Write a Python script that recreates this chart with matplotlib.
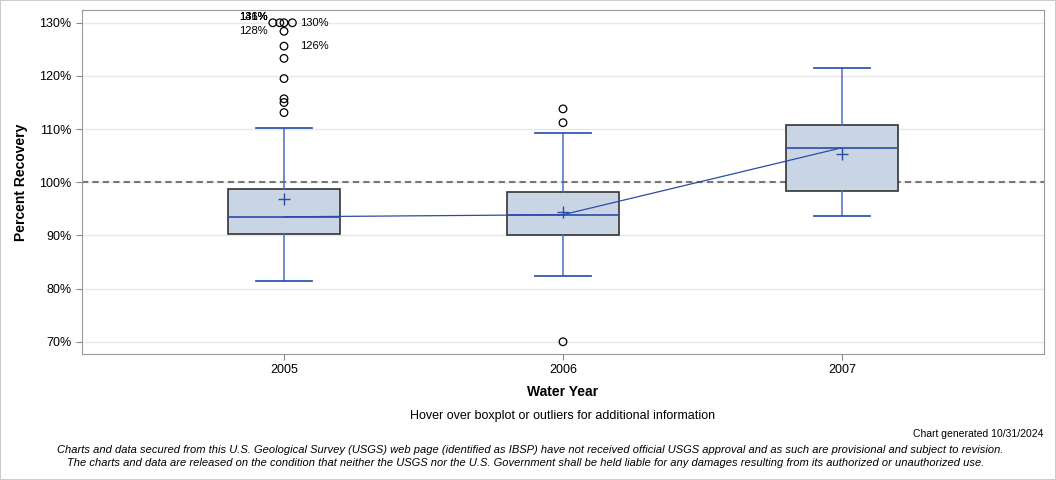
import matplotlib.pyplot as plt
from matplotlib.patches import Rectangle
import numpy as np

plt.rcParams['font.family'] = ['Liberation Sans', 'DejaVu Sans']

years = ["2005", "2006", "2007"]
q1 = [90.3, 90.0, 98.4]
med = [93.5, 93.9, 106.5]
q3 = [98.8, 98.2, 110.8]
whislo = [81.5, 82.3, 93.7]
whishi = [110.3, 109.3, 121.5]
means = [96.9, 94.4, 105.3]
fliers = [
    [130.0, 130.0, 130.0, 130.0, 128.4, 125.6, 123.3, 119.5, 115.7, 115.0, 113.1],
    [113.8, 111.2, 70.0],
    [],
]
# small horizontal spread of the clustered outliers at the top
jitter_2005 = [-0.04, -0.015, 0.0, 0.03, 0, 0, 0, 0, 0, 0, 0]

fig = plt.figure(figsize=(10.56, 4.8), dpi=100)
ax = fig.add_axes([82/1056, 1-354/480, (1044-82)/1056, 344/480])

x = np.arange(len(years))
stats = []
for i in range(len(years)):
    stats.append(dict(q1=q1[i], med=med[i], q3=q3[i], whislo=whislo[i], whishi=whishi[i],
                      mean=means[i], fliers=[], label=years[i]))

ax.bxp(stats, positions=x, widths=0.4, patch_artist=True, showfliers=False, showmeans=False,
       boxprops=dict(facecolor='#c9d5e5', edgecolor='#333333', linewidth=1.2),
       whiskerprops=dict(color='#4a6fc0', linewidth=1.1),
       capprops=dict(color='#3558b0', linewidth=1.3),
       medianprops=dict(color='#2a4ca8', linewidth=1.2),
       capwidths=0.2, zorder=3)

ax.plot(x, med, color='#2a4ca8', linewidth=0.9, zorder=4)
ax.scatter(x, means, marker='+', s=70, color='#2a4ca8', linewidths=1.0, zorder=5)

for i, vals in enumerate(fliers):
    if not vals:
        continue
    offs = jitter_2005 if i == 0 else [0] * len(vals)
    ax.scatter([x[i] + o for o in offs], vals, s=30, facecolors='none', edgecolors='black',
               linewidths=0.9, zorder=5, clip_on=False)

# outlier labels
ax.text(x[0] + 0.058, 130.0, "130%", fontsize=8, va='center', ha='left')
ax.text(x[0] - 0.06, 128.4, "128%", fontsize=8, va='center', ha='right')
ax.text(x[0] + 0.058, 125.6, "126%", fontsize=8, va='center', ha='left')
for lab in ["131%", "141%", "136%"]:
    ax.text(x[0] - 0.06, 131.1, lab, fontsize=8, va='center', ha='right')

ax.axhline(100, color='#777777', linestyle=(0, (3, 2)), linewidth=1.5, zorder=2)

ax.set_xlim(-0.724, 2.724)
ax.set_ylim(67.7, 132.4)
ax.set_yticks(np.arange(70, 131, 10))
ax.set_yticklabels([f"{v}%" for v in range(70, 131, 10)])
ax.set_xticks(x)
ax.set_xticklabels(years)
ax.yaxis.grid(True, color='#e8e8e8', linewidth=1)
ax.set_axisbelow(True)
ax.tick_params(labelsize=9, color='#888888', length=4)
for s in ax.spines.values():
    s.set_color('#999999')

ax.set_xlabel("Water Year", fontsize=10, fontweight='bold', labelpad=6)
ax.set_ylabel("Percent Recovery", fontsize=10, fontweight='bold', labelpad=8)

fig.text(563/1056, 1-416/480, "Hover over boxplot or outliers for additional information",
         ha='center', va='center', fontsize=9)
fig.text(1043/1056, 1-434/480, "Chart generated 10/31/2024", ha='right', va='center', fontsize=7.5)
fig.text(530/1056, 1-450/480,
         "Charts and data secured from this U.S. Geological Survey (USGS) web page (identified as IBSP) have not received official USGS approval and as such are provisional and subject to revision.",
         ha='center', va='center', fontsize=8, style='italic')
fig.text(526/1056, 1-463/480,
         "The charts and data are released on the condition that neither the USGS nor the U.S. Government shall be held liable for any damages resulting from its authorized or unauthorized use.",
         ha='center', va='center', fontsize=8, style='italic')

fig.patches.append(Rectangle((0, 0), 1, 1, transform=fig.transFigure, fill=False,
                             edgecolor='#cccccc', linewidth=1.5))

fig.savefig("out.png", dpi=100)
